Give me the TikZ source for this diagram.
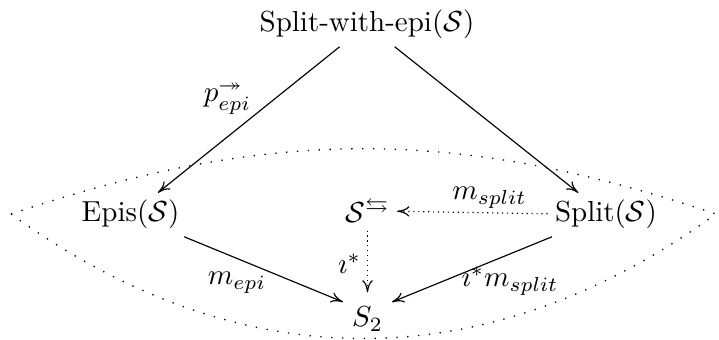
\documentclass[tikz,border=0pt]{standalone}
\usepackage{amsmath,amssymb}
\usetikzlibrary{arrows.meta}
\begin{document}
\begin{tikzpicture}[x=0.345pt,y=-0.345pt,
  obj/.style={inner sep=2.4pt,anchor=base},
  arr/.style={-{To[length=4.2pt,width=3.6pt]},line width=0.4pt},
  dotarr/.style={arr,dash pattern=on 0.4pt off 1.3pt},
  lens/.style={line width=0.45pt,dash pattern=on 0.45pt off 3.3pt},
  lab/.style={inner sep=0pt,anchor=base}]
\useasboundingbox (0,0) rectangle (719,340);
% lens
\coordinate (tipL) at (11,214);
\coordinate (tipR) at (716,214);
\draw[lens] (tipL) .. controls (270,127) and (457,127) .. (tipR);
\draw[lens] (tipL) .. controls (240,380) and (487,380) .. (tipR);
% objects
\node[obj] (top) at (367,32) {Split-with-epi$(\mathcal{S})$};
\node[obj] (epis) at (130.5,222) {Epis$(\mathcal{S})$};
\node[obj] (split) at (606,222) {Split$(\mathcal{S})$};
\node[obj] (sarr) at (367.5,223) {$\mathcal{S}^{\leftrightarrows}$};
\node[inner xsep=2.93pt,inner ysep=0.69pt,text height=11.04pt,text depth=0.69pt,anchor=center] (s2) at (367.5,312) {$S_2$};
% arrows
\draw[arr] (top) -- (epis);
\draw[arr] (top) -- (split);
\draw[dotarr] (split) -- (sarr);
\draw[dotarr] (sarr) -- (s2);
\draw[arr] (epis) -- (s2);
\draw[arr] (split) -- (s2);
% labels
\node[lab] (lp) at (227.5,102) {$p^{\twoheadrightarrow}_{epi}$};
\node[lab] (lms) at (489.5,200) {$m_{split}$};
\node[lab] (li) at (349.5,274) {$\imath^{*}$};
\node[lab] (lme) at (237,285) {$m_{epi}$};
\node[lab] (lims) at (510,287) {$\imath^{*}m_{split}$};
\end{tikzpicture}
\end{document}
